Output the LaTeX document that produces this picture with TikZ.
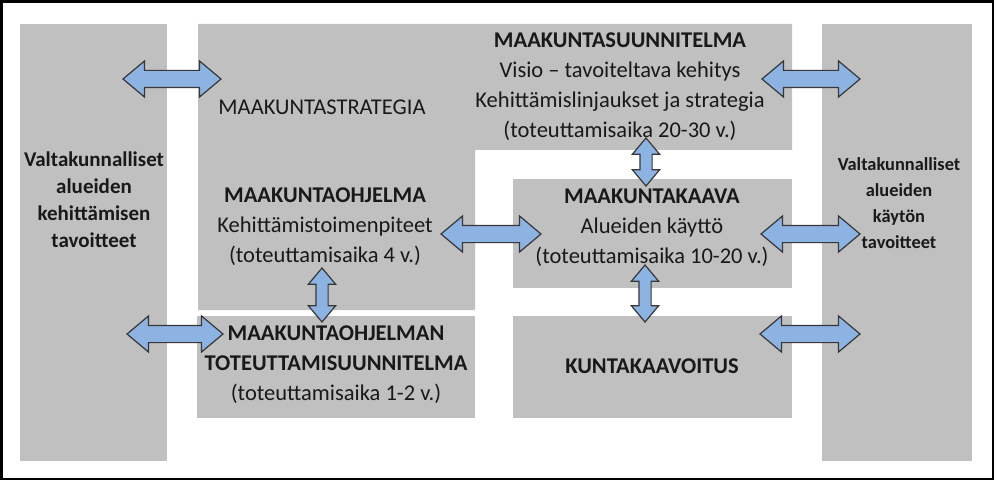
\documentclass[tikz,border=0pt]{standalone}
\usepackage{fontspec}
\setmainfont{Carlito}
\usetikzlibrary{shapes.arrows,calc}

\definecolor{boxgray}{RGB}{192,192,192}
\definecolor{arrowblue}{RGB}{141,179,226}
\definecolor{arrowline}{RGB}{55,55,55}

\newcommand{\blockarrow}[3]{\path let \p1 = (#2), \p2 = (#3), \n1 = {veclen(\x2-\x1,\y2-\y1)}, \n2 = {atan2(\y2-\y1,\x2-\x1)} in node[#1, minimum height = \n1, rotate = \n2] (#2-#3) at ($(\p1)!0.5!(\p2)$) {};}

\begin{document}
\begin{tikzpicture}[x = 1pt, y = -1pt,
	box/.style = {fill = boxgray, inner sep = 0pt, anchor = north west},
	txt/.style = {align = center, inner sep = 0pt, text = black!90, font = \fontsize{22.5}{30}\selectfont},
	goal/.style = {align = center, inner sep = 0pt, text = black!90, font = \bfseries\fontsize{21}{27}\selectfont},
	dblarrow/.style = {double arrow, draw = arrowline, fill = arrowblue, line width = 1.2pt, inner xsep = 0pt, double arrow tip angle = 80, double arrow head indent = 0pt},
	wide/.style = {dblarrow, inner ysep = 8pt, double arrow head extend = 9.5pt},
	slim/.style = {dblarrow, inner ysep = 5.5pt, double arrow head extend = 7.5pt}]
	\useasboundingbox (0, 0) rectangle (998, 481);
	\fill[white] (0, 0) rectangle (998, 481);
	\draw[line width = 2.5pt] (1.5, 1.5) rectangle (993, 479);
	
	\node[box, minimum width = 147, minimum height = 437] (goalsL) at (20, 24) {};
	\node[box, minimum width = 150, minimum height = 437] (goalsR) at (822, 24) {};
	\fill[boxgray] (198, 24) -- (792, 24) -- (792, 150) -- (475, 150) -- (475, 310) -- (198, 310) -- cycle;
	\node[box, minimum width = 279, minimum height = 109] (kaava) at (513, 179) {};
	\node[box, minimum width = 279, minimum height = 102] (kunta) at (513, 316) {};
	\node[box, minimum width = 278, minimum height = 102] (toteutus) at (197, 316) {};
	
	\node[goal] (goalsLtxt) at (94, 200) {Valtakunnalliset\\alueiden\\kehittämisen\\tavoitteet};
	\node[goal, font = \bfseries\fontsize{18.4}{26}\selectfont] (goalsRtxt) at (899, 203) {Valtakunnalliset\\alueiden\\käytön\\tavoitteet};
	
	\node[txt] (suunnitelma) at (620, 87) {\textbf{MAAKUNTASUUNNITELMA}\\Visio – tavoiteltava kehitys\\Kehittämislinjaukset ja strategia\\(toteuttamisaika 20-30 v.)};
	\node[txt] (strategia) at (322, 107) {MAAKUNTASTRATEGIA};
	\node[txt] (ohjelma) at (325, 227) {\textbf{MAAKUNTAOHJELMA}\\Kehittämistoimenpiteet\\(toteuttamisaika 4 v.)};
	\node[txt] (toteutustxt) at (336, 365) {\textbf{MAAKUNTAOHJELMAN}\\\textbf{TOTEUTTAMISUUNNITELMA}\\(toteuttamisaika 1-2 v.)};
	\node[txt] (kaavatxt) at (652, 228) {\textbf{MAAKUNTAKAAVA}\\Alueiden käyttö\\(toteuttamisaika 10-20 v.)};
	\node[txt] (kuntatxt) at (652, 366) {\textbf{KUNTAKAAVOITUS}};
	
	\coordinate (gl1) at (123, 79);
	\coordinate (st1) at (221, 79);
	\coordinate (su1) at (762, 79);
	\coordinate (gr1) at (860, 79);
	\coordinate (su2) at (646, 138);
	\coordinate (ka1) at (646, 186);
	\coordinate (oh1) at (441, 234);
	\coordinate (ka2) at (541, 234);
	\coordinate (ka3) at (761, 234);
	\coordinate (gr2) at (860, 234);
	\coordinate (oh2) at (322, 268);
	\coordinate (to1) at (322, 322);
	\coordinate (gl2) at (127, 334);
	\coordinate (to2) at (223, 334);
	\coordinate (ka4) at (645, 265);
	\coordinate (ku1) at (645, 322);
	\coordinate (ku2) at (760, 334);
	\coordinate (gr3) at (860, 334);
	
	\blockarrow{wide}{gl1}{st1}
	\blockarrow{wide}{su1}{gr1}
	\blockarrow{slim}{su2}{ka1}
	\blockarrow{wide}{oh1}{ka2}
	\blockarrow{wide}{ka3}{gr2}
	\blockarrow{slim}{oh2}{to1}
	\blockarrow{wide}{gl2}{to2}
	\blockarrow{slim}{ka4}{ku1}
	\blockarrow{wide}{ku2}{gr3}
\end{tikzpicture}
\end{document}
